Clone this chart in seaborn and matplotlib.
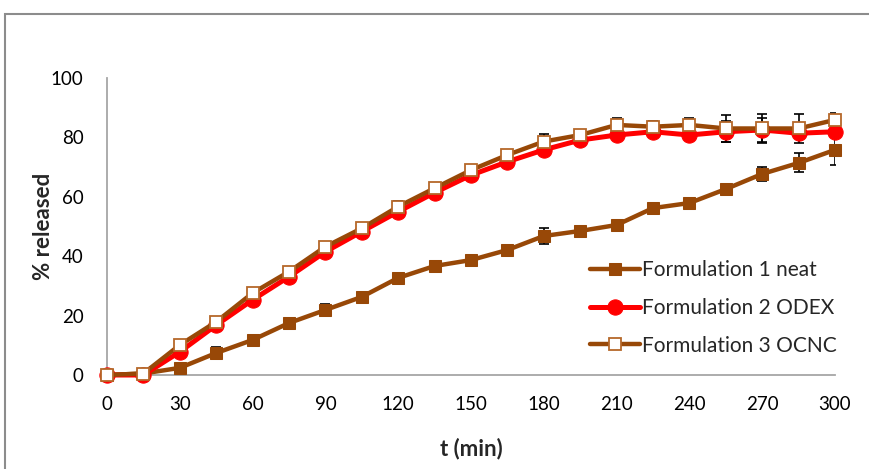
import matplotlib
matplotlib.use("Agg")
import matplotlib.pyplot as plt
import seaborn as sns
import pandas as pd
from matplotlib.patches import Rectangle

t_min = [0, 15, 30, 45, 60, 75, 90, 105, 120, 135, 150, 165, 180, 195, 210, 225, 240, 255, 270, 285, 300]
neat = [0, 0.5, 2.4, 7.4, 11.8, 17.5, 21.9, 26.3, 32.7, 36.7, 38.7, 42.1, 46.8, 48.5, 50.5, 56.2, 57.9, 62.6, 67.7, 71.4, 75.8]
neat_err = [0, 0.3, 0.5, 2.0, 0.8, 0.6, 2.0, 0.6, 1.8, 0.6, 0.6, 0.6, 2.8, 0.6, 0.6, 0.6, 0.6, 1.5, 2.5, 3.2, 5.0]
odex = [0, 0, 7.8, 16.8, 25.3, 33.1, 41.5, 48.3, 55.0, 61.4, 67.3, 71.8, 75.8, 79.1, 80.8, 81.9, 80.8, 81.9, 82.5, 81.4, 81.9]
odex_err = [0, 0, 0.5, 0.5, 0.5, 0.5, 0.5, 0.5, 0.5, 0.5, 0.5, 0.5, 0.8, 0.8, 1.0, 1.0, 1.0, 3.5, 4.0, 1.0, 1.0]
ocnc = [0, 0.5, 10.1, 17.9, 27.6, 34.8, 43.2, 49.4, 56.7, 62.9, 69.0, 74.1, 78.6, 80.8, 84.2, 83.6, 84.2, 83.0, 83.0, 83.0, 85.9]
ocnc_err = [0, 0.3, 1.0, 1.0, 1.0, 1.0, 1.0, 1.0, 1.8, 1.0, 1.0, 1.0, 2.5, 1.8, 2.2, 1.8, 2.5, 4.5, 5.0, 5.0, 2.2]
labels = ["Formulation 1 neat", "Formulation 2 ODEX", "Formulation 3 OCNC"]

sns.set_style("white")
plt.rcParams['font.family'] = ['Lato', 'DejaVu Sans']

fig = plt.figure(figsize=(8.69, 4.69), dpi=100)
ax = fig.add_axes([107/869, 1-375/469, (835-107)/869, (375-78)/469])

brown = "#984807"
red = "#FF0000"

df1 = pd.DataFrame({"t": t_min, "v": neat})
df2 = pd.DataFrame({"t": t_min, "v": odex})
df3 = pd.DataFrame({"t": t_min, "v": ocnc})

sns.lineplot(data=df1, x="t", y="v", ax=ax, color=brown, lw=3.2, marker="s", ms=8,
             mfc=brown, mec=brown, label=labels[0], clip_on=False, zorder=3)
sns.lineplot(data=df2, x="t", y="v", ax=ax, color=red, lw=3.6, marker="o", ms=11,
             mfc=red, mec=red, label=labels[1], clip_on=False, zorder=4)
sns.lineplot(data=df3, x="t", y="v", ax=ax, color=brown, lw=3.2, marker="s", ms=8,
             mfc="white", mec="#B5682A", mew=1.3, label=labels[2], clip_on=False, zorder=5)

for vals, errs in [(neat, neat_err), (odex, odex_err), (ocnc, ocnc_err)]:
    ax.errorbar(t_min, vals, yerr=errs, fmt="none", ecolor="black", elinewidth=1.2,
                capsize=3.5, capthick=1.2, zorder=2.5)

ax.set_xlim(0, 300)
ax.set_ylim(0, 100)
ax.set_xticks(range(0, 301, 30))
ax.set_yticks(range(0, 101, 20))
ax.tick_params(axis="x", labelsize=13.5, length=0, pad=15, colors="black")
ax.tick_params(axis="y", labelsize=13.5, length=0, pad=17, colors="black")
for s in ["top", "right"]:
    ax.spines[s].set_visible(False)
for s in ["left", "bottom"]:
    ax.spines[s].set_color("#A6A6A6")
    ax.spines[s].set_linewidth(1.3)

ax.set_xlabel("t (min)", fontsize=16, fontweight="bold", labelpad=18)
ax.set_ylabel("% released", fontsize=16, fontweight="bold")
ax.yaxis.set_label_coords((54 - 107) / 728, 0.5)

leg = ax.legend(loc="upper left", bbox_to_anchor=((582-107)/728, (375-252)/297), frameon=False,
                fontsize=15, handlelength=2.4, handletextpad=0.1, labelspacing=0.85, borderaxespad=0)

fig.patches.append(Rectangle((5/869, -0.1), 1.1, 1 - 14/469 + 0.1, transform=fig.transFigure,
                             fill=False, edgecolor="#8C8C8C", lw=1.5))

fig.savefig("out.png", dpi=100)
